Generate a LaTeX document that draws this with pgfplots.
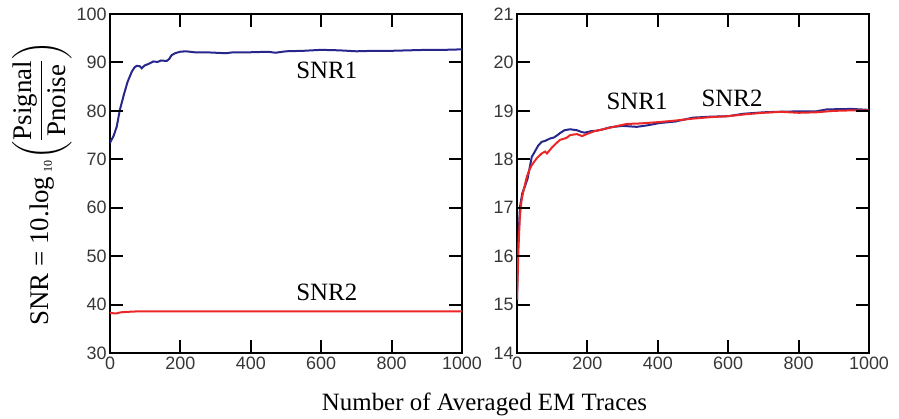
\documentclass[border=0pt]{standalone}
\usepackage{amsmath}
\usepackage{fontspec}
\setmainfont{Liberation Serif}
\setsansfont{Liberation Sans}
\usepackage{pgfplots}
\pgfplotsset{compat=1.18}

\definecolor{snrblue}{RGB}{38,38,140}
\definecolor{snrred}{RGB}{235,38,38}
\definecolor{ticktext}{RGB}{55,55,55}

\tikzset{mytick/.style={draw=black, line width=2bp}}
\pgfplotsset{
  snr/.style={
    scale only axis,
    width=352bp, height=339bp,
    xmin=0, xmax=1000,
    xtick={0,200,...,1000},
    major tick length=13bp,
    tick style={draw=black, line width=1.6bp},
    axis line style={line width=1.8bp},
    tick label style={font=\fontsize{18}{18}\selectfont\sffamily, text=ticktext},
    /pgf/number format/assume math mode=true,
    /pgf/number format/1000 sep={},
  },
}

\begin{document}
\begin{tikzpicture}

% left panel
\begin{axis}[snr,
    at={(110bp,64bp)}, anchor=south west,
    ymin=30, ymax=100, ytick={30,40,...,100},
    ylabel={\fontsize{27}{27}\selectfont SNR = 10.log\,$_{\text{\fontsize{12}{12}\selectfont 10}}\!\left(\dfrac{\text{Psignal}}{\text{Pnoise}}\right)$},
    ylabel style={yshift=-2bp},
  ]
  \addplot[snrblue, line width=2bp] coordinates {
    (0,73.4) (10,74.8) (19,76.7) (28,80.2) (40,83.5) (50,86.0) (62,88.1)
    (70,89.0) (76,89.3) (85,89.2) (90,88.8) (99,89.4) (110,89.7) (123,90.2)
    (135,90.1) (145,90.4) (161,90.3) (168,90.7) (175,91.5) (185,91.9)
    (199,92.2) (215,92.3) (240,92.1) (270,92.1) (300,92.0) (330,91.9)
    (350,92.1) (400,92.1) (450,92.2) (470,92.0) (500,92.3) (550,92.4)
    (600,92.6) (650,92.5) (700,92.3) (750,92.4) (800,92.4) (850,92.5)
    (900,92.6) (950,92.6) (1000,92.7)
  };
  \addplot[snrred, line width=2bp] coordinates {
    (0,38.3) (10,38.2) (20,38.2) (30,38.4) (50,38.5) (80,38.6) (100,38.6)
    (200,38.6) (300,38.6) (400,38.6) (500,38.6) (600,38.6) (700,38.6)
    (800,38.6) (900,38.6) (1000,38.6)
  };
  \node[font=\fontsize{25}{25}\selectfont] at (axis cs:616,88.4) {SNR1};
  \node[font=\fontsize{25}{25}\selectfont] at (axis cs:616,42.6) {SNR2};
\end{axis}

% right panel
\begin{axis}[snr,
    at={(517bp,64bp)}, anchor=south west,
    ymin=14, ymax=21, ytick={14,15,...,21},
  ]
  \addplot[snrblue, line width=2bp] coordinates {
    (0,15.1) (3,16.2) (8.5,17.02) (15,17.3) (23,17.45) (30,17.6) (42,18.05)
    (50,18.15) (60,18.28) (70,18.36) (80,18.38) (94,18.43) (105,18.45)
    (115,18.5) (122,18.54) (135,18.6) (151,18.62) (170,18.6) (185,18.56)
    (193,18.55) (210,18.58) (226,18.59) (245,18.62) (264,18.66) (300,18.69)
    (340,18.67) (370,18.7) (406,18.75) (450,18.78) (500,18.86) (550,18.88)
    (600,18.89) (643,18.94) (700,18.97) (738,18.98) (800,18.99) (850,18.99)
    (880,19.03) (950,19.04) (1000,19.02)
  };
  \addplot[snrred, line width=2bp] coordinates {
    (0,15.1) (4,16.13) (8,16.8) (13,17.16) (20,17.4) (28,17.64) (35,17.78)
    (42,17.88) (56,18.02) (70,18.12) (80,18.16) (85,18.12) (100,18.25)
    (110,18.32) (122,18.4) (140,18.44) (151,18.5) (170,18.52) (185,18.48)
    (198,18.52) (220,18.58) (245,18.62) (280,18.68) (312,18.73) (350,18.74)
    (406,18.77) (450,18.8) (500,18.84) (550,18.87) (600,18.89) (650,18.93)
    (700,18.96) (750,18.98) (800,18.96) (850,18.97) (900,19.0) (950,19.01)
    (1000,19.01)
  };
  \node[font=\fontsize{25}{25}\selectfont] at (axis cs:341,19.19) {SNR1};
  \node[font=\fontsize{25}{25}\selectfont] at (axis cs:611,19.25) {SNR2};
\end{axis}

% inward tick marks on all four sides of both boxes (box: 352bp x 339bp)
\foreach \ox in {110,517} {
  \foreach \k in {1,2,3,4} {
    \draw[mytick] ({(\ox+70.4*\k)*1bp},64bp) -- ++(0,13bp);
    \draw[mytick] ({(\ox+70.4*\k)*1bp},403bp) -- ++(0,-13bp);
  }
  \foreach \k in {1,2,3,4,5,6} {
    \draw[mytick] ({\ox*1bp},{(64+48.4286*\k)*1bp}) -- ++(13bp,0);
    \draw[mytick] ({(\ox+352)*1bp},{(64+48.4286*\k)*1bp}) -- ++(-13bp,0);
  }
}

\node[anchor=base, font=\fontsize{25}{25}\selectfont] at (484.5bp,7bp) {Number of Averaged EM Traces};
\path (0,0) rectangle (899bp,417bp);
\end{tikzpicture}
\end{document}
